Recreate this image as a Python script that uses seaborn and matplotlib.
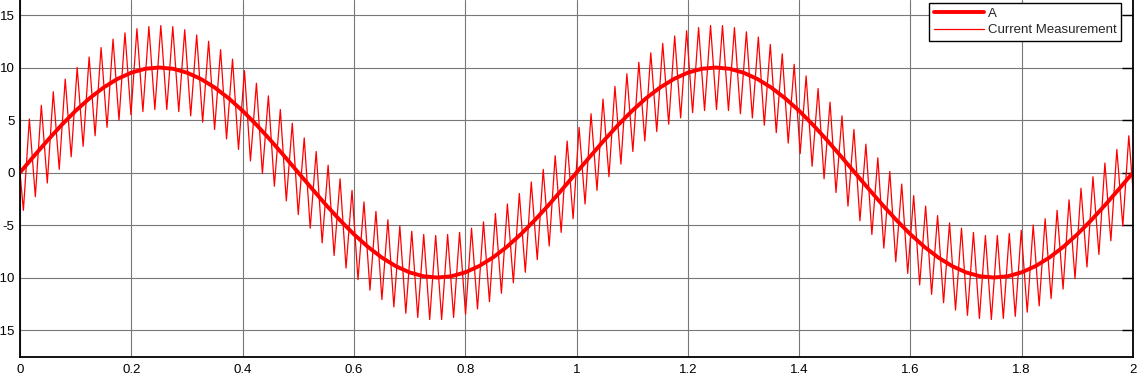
import numpy as np
import pandas as pd
import matplotlib
matplotlib.use("Agg")
import matplotlib.pyplot as plt
import seaborn as sns

# ---------------- data ----------------
# Series "A": smooth sine, sampled every 0.025 s from 0 to 2 s
a_dt = 0.025
a_values = [
    0.00, 1.56, 3.09, 4.54, 5.88, 7.07, 8.09, 8.91, 9.51, 9.88,
    10.00, 9.88, 9.51, 8.91, 8.09, 7.07, 5.88, 4.54, 3.09, 1.56,
    0.00, -1.56, -3.09, -4.54, -5.88, -7.07, -8.09, -8.91, -9.51, -9.88,
    -10.00, -9.88, -9.51, -8.91, -8.09, -7.07, -5.88, -4.54, -3.09, -1.56,
    0.00, 1.56, 3.09, 4.54, 5.88, 7.07, 8.09, 8.91, 9.51, 9.88,
    10.00, 9.88, 9.51, 8.91, 8.09, 7.07, 5.88, 4.54, 3.09, 1.56,
    0.00, -1.56, -3.09, -4.54, -5.88, -7.07, -8.09, -8.91, -9.51, -9.88,
    -10.00, -9.88, -9.51, -8.91, -8.09, -7.07, -5.88, -4.54, -3.09, -1.56,
    0.00,
]

# Series "Current Measurement": start value at t=0, then the ripple
# vertices (alternating troughs / peaks) on a regular time grid
meas_start_value = 0.0
meas_t0 = 0.0061
meas_dt = 0.010737
meas_vertices = [
    -3.6, 5.1, -2.3, 6.4, -1.0, 7.7, 0.3, 8.9, 1.5, 10.0,
    2.5, 11.0, 3.5, 11.9, 4.3, 12.7, 5.0, 13.3, 5.5, 13.7,
    5.8, 13.9, 6.0, 14.0, 6.0, 13.9, 5.8, 13.6, 5.4, 13.1,
    4.8, 12.5, 4.1, 11.7, 3.2, 10.8, 2.2, 9.7, 1.1, 8.5,
    -0.1, 7.3, -1.3, 6.0, -2.7, 4.7, -4.0, 3.3, -5.3, 2.0,
    -6.7, 0.7, -7.9, -0.6, -9.1, -1.7, -10.2, -2.8, -11.2, -3.7,
    -12.1, -4.5, -12.8, -5.1, -13.4, -5.6, -13.8, -5.9, -14.0, -6.0,
    -14.0, -5.9, -13.8, -5.7, -13.5, -5.3, -13.0, -4.7, -12.3, -3.9,
    -11.5, -3.0, -10.5, -2.0, -9.5, -0.9, -8.3, 0.3, -7.0, 1.6,
    -5.7, 3.0, -4.4,
    4.3, -3.0, 5.6, -1.7, 7.0, -0.4, 8.2, 0.8, 9.4, 2.0,
    10.5, 3.0, 11.4, 3.9, 12.3, 4.6, 13.0, 5.2, 13.5, 5.7,
    13.8, 5.9, 14.0, 6.0, 14.0, 5.9, 13.8, 5.6, 13.4, 5.2,
    12.9, 4.5, 12.2, 3.8, 11.3, 2.8, 10.3, 1.8, 9.2, 0.6,
    8.0, -0.6, 6.7, -1.9, 5.4, -3.2, 4.1, -4.6, 2.7, -5.9,
    1.4, -7.2, 0.1, -8.5, -1.1, -9.6, -2.2, -10.7, -3.2, -11.6,
    -4.1, -12.4, -4.8, -13.1, -5.3, -13.6, -5.7, -13.9, -6.0, -14.0,
    -6.0, -13.9, -5.8, -13.7, -5.5, -13.3, -5.0, -12.7, -4.4, -12.0,
    -3.6, -11.1, -2.6, -10.1, -1.5, -9.0, -0.4, -7.8, 0.9, -6.5,
    2.2, -5.1, 3.5, -3.8,
]

x_ticks = [0, 0.2, 0.4, 0.6, 0.8, 1.0, 1.2, 1.4, 1.6, 1.8, 2.0]
x_tick_labels = ["0", "0.2", "0.4", "0.6", "0.8", "1", "1.2", "1.4", "1.6", "1.8", "2"]
y_ticks = [-15, -10, -5, 0, 5, 10, 15]
y_tick_labels = ["-15", "-10", "-5", "0", "5", "10", "15"]
series_names = ["A", "Current Measurement"]

# ---------------- build tables ----------------
a_time = np.arange(len(a_values)) * a_dt
meas_time = np.concatenate([[0.0], meas_t0 + meas_dt * np.arange(len(meas_vertices))])
meas_vals = [meas_start_value] + meas_vertices

df_a = pd.DataFrame({"t": a_time, "v": a_values, "series": series_names[0]})
df_m = pd.DataFrame({"t": meas_time, "v": meas_vals, "series": series_names[1]})

# ---------------- style ----------------
sns.set_style("white")
plt.rcParams["font.family"] = ["Liberation Sans", "DejaVu Sans"]
plt.rcParams["axes.unicode_minus"] = False

W, H = 1141, 378
fig = plt.figure(figsize=(W / 100, H / 100), dpi=100)
left_px, right_px, bottom_px = 20, 1133, 356.7
ax = fig.add_axes([left_px / W, 1 - bottom_px / H, (right_px - left_px) / W, bottom_px / H])

sns.lineplot(data=df_a, x="t", y="v", ax=ax, color="#ff0000", linewidth=2.8,
             sort=False, estimator=None, label=series_names[0])
sns.lineplot(data=df_m, x="t", y="v", ax=ax, color="#ff0000", linewidth=0.9,
             sort=False, estimator=None, label=series_names[1])

ax.set_xlim(0, 2)
ax.set_ylim(-17.54, 16.43)
ax.set_xticks(x_ticks)
ax.set_xticklabels(x_tick_labels)
ax.set_yticks(y_ticks)
ax.set_yticklabels(y_tick_labels)
ax.set_xlabel("")
ax.set_ylabel("")

ax.grid(True, color="#777777", linewidth=0.8)
ax.set_axisbelow(True)
ax.tick_params(axis="both", direction="in", length=8, width=1.0, color="black",
               labelsize=9.5, labelcolor="black", top=False, right=True)
ax.tick_params(axis="x", pad=5)
ax.tick_params(axis="y", pad=4)
for side in ["left", "right", "bottom"]:
    ax.spines[side].set_visible(True)
    ax.spines[side].set_color("black")
    ax.spines[side].set_linewidth(1.3)
ax.spines["top"].set_visible(False)

leg = ax.legend(loc="upper right", bbox_to_anchor=(1121 / W, 1 - 2.7 / H),
                bbox_transform=fig.transFigure, borderaxespad=0,
                fancybox=False, framealpha=1, edgecolor="black",
                fontsize=9.5, handlelength=3.8, handletextpad=0.3,
                labelspacing=0.35, borderpad=0.35)
leg.get_frame().set_linewidth(1.0)

fig.savefig("out.png", dpi=100)
